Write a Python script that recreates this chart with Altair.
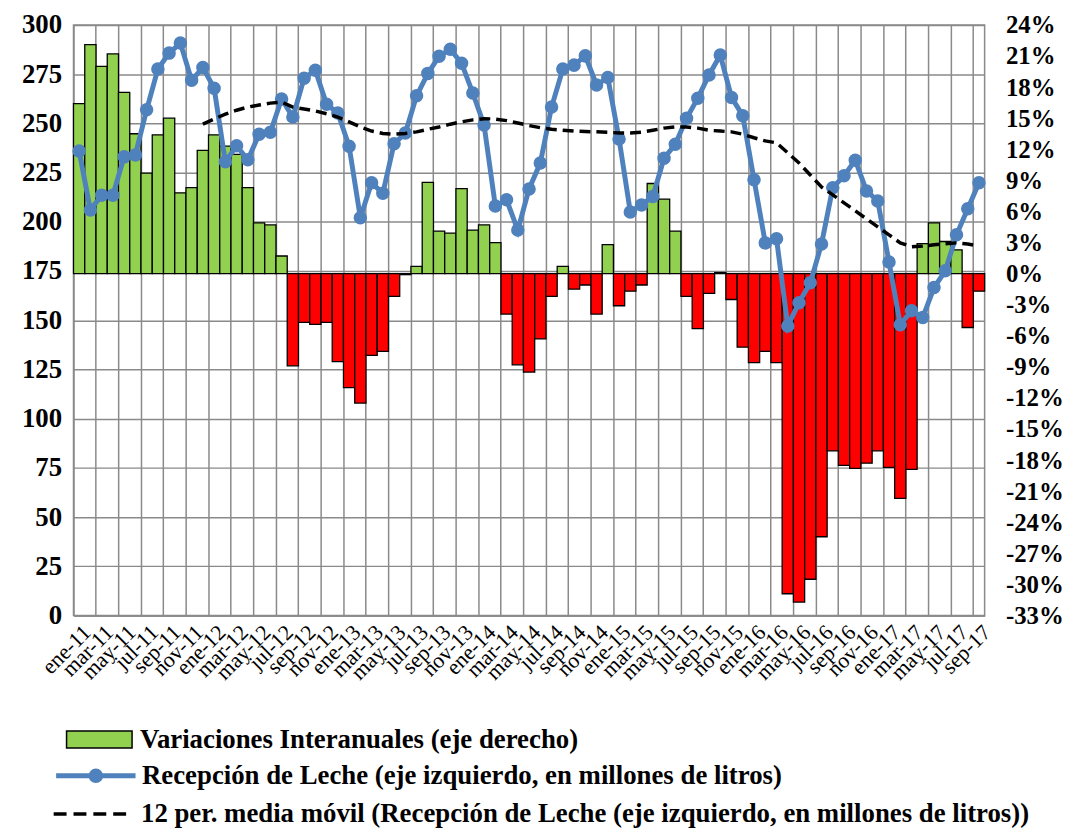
import altair as alt
import pandas as pd

# ---------------- data ----------------
MESES = ["ene", "feb", "mar", "abr", "may", "jun", "jul", "ago", "sep", "oct", "nov", "dic"]
ANIOS = ["11", "12", "13", "14", "15", "16", "17"]
meses = [f"{m}-{a}" for a in ANIOS for m in MESES][:81]   # ene-11 ... sep-17
etiquetas_x = meses[::2]

# Recepción de Leche (millones de litros, eje izquierdo)
recepcion = [
    236.0, 206.0, 213.5, 213.5, 233.0, 234.0, 256.9, 277.6, 285.7, 290.8, 271.9, 278.4,
    267.9, 230.5, 238.6, 231.5, 244.5, 245.5, 262.4, 253.2, 272.9, 277.0, 259.7, 255.3,
    238.4, 202.1, 219.8, 214.5, 239.7, 245.1, 264.0, 275.4, 284.1, 287.7, 280.6, 265.4,
    249.2, 208.0, 211.2, 195.8, 216.7, 229.9, 258.3, 277.6, 279.6, 284.3, 269.5, 273.3,
    242.1, 205.0, 208.6, 212.9, 232.3, 239.4, 252.6, 262.8, 274.6, 284.7, 263.2, 253.9,
    221.4, 189.3, 191.4, 147.1, 158.9, 169.0, 188.7, 217.3, 223.4, 231.3, 215.7, 210.6,
    179.6, 147.7, 154.8, 151.4, 166.6, 175.1, 193.4, 206.6, 219.8,
]

# Variaciones interanuales (eje derecho)
variacion = [
    0.164, 0.221, 0.200, 0.212, 0.175, 0.135, 0.097, 0.134, 0.150, 0.078, 0.083, 0.119,
    0.134, 0.123, 0.115, 0.083, 0.049, 0.047, 0.017, -0.089, -0.047, -0.049, -0.047, -0.085,
    -0.110, -0.125, -0.079, -0.075, -0.022, -0.001, 0.007, 0.088, 0.041, 0.039, 0.082, 0.042,
    0.047, 0.030, -0.039, -0.088, -0.095, -0.063, -0.022, 0.007, -0.015, -0.011, -0.039, 0.028,
    -0.031, -0.017, -0.011, 0.087, 0.072, 0.041, -0.022, -0.053, -0.019, 0.001, -0.025, -0.071,
    -0.086, -0.075, -0.086, -0.309, -0.317, -0.295, -0.254, -0.171, -0.185, -0.188, -0.183, -0.171,
    -0.187, -0.217, -0.189, 0.029, 0.049, 0.031, 0.023, -0.052, -0.017,
]

# 12 per. media móvil
media_movil = [None] * 11 + [
    249.6,
    252.2, 254.7, 256.7, 258.3, 259.3, 260.3, 260.8, 258.3, 257.3, 256.3, 254.9, 253.2,
    250.8, 248.2, 246.1, 244.9, 244.5, 244.9, 245.7, 247.0, 248.2, 249.6, 250.8, 251.8,
    252.4, 252.2, 251.4, 250.2, 248.9, 247.8, 247.0, 246.5, 246.1, 245.9, 245.7, 245.5,
    245.1, 245.1, 245.5, 246.5, 247.6, 248.2, 248.2, 247.6, 246.5, 246.1, 245.7, 244.5,
    242.7, 241.1, 240.1, 235.0, 229.9, 223.8, 217.7, 213.7, 209.6, 205.6, 201.5, 197.4,
    193.4, 189.3, 187.3, 187.7, 188.3, 188.9, 189.3, 188.7, 187.7,
]

ticks_izq = [0, 25, 50, 75, 100, 125, 150, 175, 200, 225, 250, 275, 300]
ticks_der = [-0.33, -0.30, -0.27, -0.24, -0.21, -0.18, -0.15, -0.12, -0.09, -0.06, -0.03,
             0.0, 0.03, 0.06, 0.09, 0.12, 0.15, 0.18, 0.21, 0.24]

LBL_BAR = "Variaciones Interanuales (eje derecho)"
LBL_LINE = "Recepción de Leche (eje izquierdo, en millones de litros)"
LBL_MA = "12 per. media móvil (Recepción de Leche (eje izquierdo, en millones de litros))"

df = pd.DataFrame({
    "mes": meses,
    "recepcion": recepcion,
    "variacion": variacion,
    "media": media_movil,
})
df["serie_barra"] = [LBL_BAR if v >= 0 else "neg" for v in variacion]
df["serie_linea"] = LBL_LINE
df["serie_media"] = LBL_MA

# ---------------- style ----------------
FONT = "Liberation Serif"
GRID = "#8a8a8a"
VERDE = "#92D050"
ROJO = "#FF0000"
AZUL = "#4F81BD"

x_enc = alt.X(
    "mes:O", sort=meses,
    scale=alt.Scale(paddingInner=0, paddingOuter=0),
    axis=alt.Axis(
        values=etiquetas_x, title=None, labelAngle=-45, labelAlign="right",
        labelBaseline="top", bandPosition=0, labelOffset=1, grid=True,
        gridColor=GRID, gridWidth=1.5, ticks=False, domainColor=GRID,
        domainWidth=1.5, labelFont=FONT, labelFontSize=22, labelColor="black",
        labelPadding=6,
    ),
)

legend_common = dict(
    title=None, orient="none", padding=0, labelFont=FONT, labelFontSize=27,
    labelFontWeight="bold", labelColor="black", labelLimit=2000,
)

barras = alt.Chart(df).mark_bar(stroke="black", strokeWidth=1.3).encode(
    x=x_enc,
    y=alt.Y(
        "variacion:Q",
        scale=alt.Scale(domain=[-0.33, 0.24], nice=False, zero=False),
        axis=alt.Axis(
            orient="right", values=ticks_der,
            labelExpr="round(datum.value * 100) + '%'",
            grid=False, domain=False, ticks=False, labelPadding=21,
            labelFont=FONT, labelFontSize=25, labelFontWeight="bold",
            labelColor="black", title=None,
        ),
    ),
    y2=alt.datum(0),
    color=alt.Color(
        "serie_barra:N",
        scale=alt.Scale(domain=[LBL_BAR, "neg"], range=[VERDE, ROJO]),
        legend=alt.Legend(
            values=[LBL_BAR], legendX=-8, legendY=686,
            symbolType="M-1,-0.26L1,-0.26L1,0.26L-1,0.26Z", symbolSize=4356,
            symbolStrokeColor="black", symbolStrokeWidth=1.5, labelOffset=7,
            **legend_common,
        ),
    ),
)

linea = alt.Chart(df).mark_line(
    strokeWidth=5, point=alt.OverlayMarkDef(filled=True, size=185)
).encode(
    x=x_enc,
    y=alt.Y(
        "recepcion:Q",
        scale=alt.Scale(domain=[0, 300], nice=False),
        axis=alt.Axis(
            orient="left", values=ticks_izq, grid=True, gridColor=GRID,
            gridWidth=1.5, domain=False, ticks=False, labelPadding=12,
            labelFont=FONT, labelFontSize=27, labelFontWeight="bold",
            labelColor="black", title=None,
        ),
    ),
    color=alt.Color(
        "serie_linea:N",
        scale=alt.Scale(domain=[LBL_LINE], range=[AZUL]),
        legend=alt.Legend(
            legendX=-20, legendY=714,
            symbolType="M-1,0L1,0M-0.12,0A0.12,0.12,0,1,1,0.12,0A0.12,0.12,0,1,1,-0.12,0Z",
            symbolSize=6400, symbolStrokeWidth=5, symbolFillColor=AZUL,
            symbolStrokeColor=AZUL, labelOffset=4,
            **legend_common,
        ),
    ),
)

media = alt.Chart(df).mark_line(strokeWidth=3.5, strokeDash=[11, 6]).encode(
    x=x_enc,
    y=alt.Y("media:Q", scale=alt.Scale(domain=[0, 300], nice=False), axis=None),
    color=alt.Color(
        "serie_media:N",
        scale=alt.Scale(domain=[LBL_MA], range=["black"]),
        legend=alt.Legend(
            legendX=-22, legendY=753,
            symbolType="M-1,0L1,0", symbolSize=6400, symbolStrokeWidth=3.5,
            symbolStrokeColor="black", symbolDash=[13, 7], labelOffset=6,
            **legend_common,
        ),
    ),
)

chart = (
    alt.layer(barras, linea, media)
    .resolve_scale(y="independent", color="independent")
    .properties(
        width=918, height=595,
        autosize=alt.AutoSizeParams(type="none"),
        padding={"left": 66, "top": 14, "right": 83, "bottom": 211},
        background="white",
    )
    .configure_view(stroke=GRID, strokeWidth=1.5)
)

chart.save("out.html", embed_options={"renderer": "svg", "actions": False})
